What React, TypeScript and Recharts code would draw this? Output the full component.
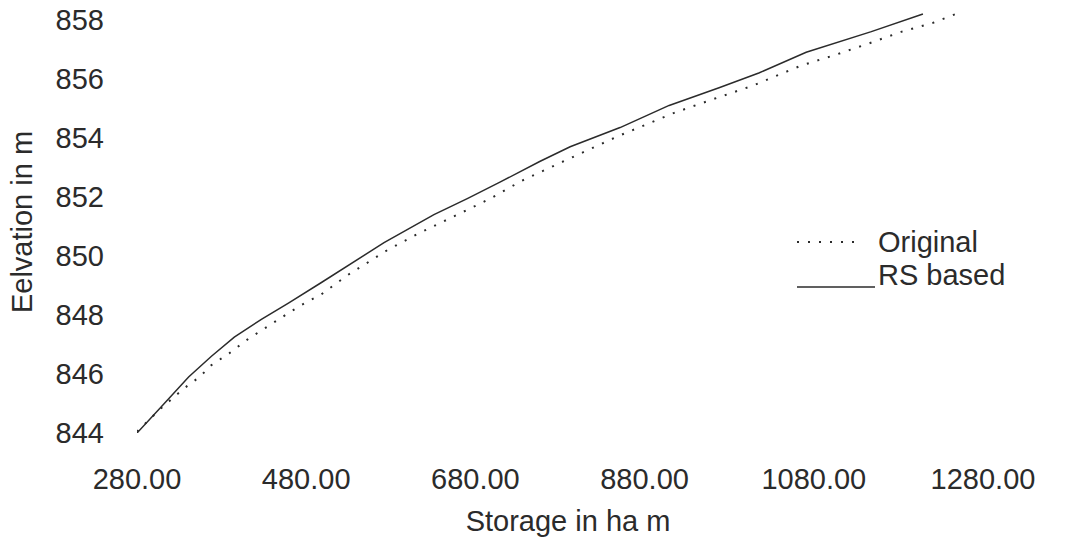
import React from 'react';
import { LineChart, Line, XAxis, YAxis, Legend, Label } from 'recharts';

// storage (ha m) vs elevation (m)
const originalStorage = [280, 307, 335, 354, 368, 389, 412, 442, 472, 498, 529, 576, 612, 666, 698, 735, 795, 848, 915, 965, 1006, 1065, 1104, 1145, 1184, 1221, 1248];
const originalElevation = [844.05, 844.8, 845.5, 845.9, 846.3, 846.7, 847.2, 847.75, 848.3, 848.7, 849.35, 850.2, 850.75, 851.5, 851.95, 852.55, 853.35, 854.05, 854.85, 855.35, 855.75, 856.45, 856.8, 857.2, 857.6, 857.9, 858.2];

const rsStorage = [280, 309, 341, 368, 395, 427, 459, 498, 572, 631, 671, 709, 756, 792, 851, 909, 968, 1015, 1071, 1148, 1209];
const rsElevation = [844.0, 844.9, 845.9, 846.6, 847.25, 847.85, 848.4, 849.1, 850.45, 851.4, 851.95, 852.5, 853.2, 853.7, 854.35, 855.1, 855.7, 856.2, 856.9, 857.6, 858.2];

const xTicks = [280, 480, 680, 880, 1080, 1280];
const yTicks = [844, 846, 848, 850, 852, 854, 856, 858];

const originalData = originalStorage.map((s, i) => ({ storage: s, elevation: originalElevation[i] }));
const rsData = rsStorage.map((s, i) => ({ storage: s, elevation: rsElevation[i] }));

const FONT = '"Liberation Sans", Arial, sans-serif';
const TEXT = '#2b2b2b';

const dashFor: Record<string, string | undefined> = {
    Original: '2 9',
    'RS based': undefined,
};

const LegendBox = (props: any) => {
    const items = props.payload || [];
    return (
        <svg width={230} height={80} style={{ fontFamily: FONT }}>
            {items.map((item: any, i: number) => {
                const y = i === 0 ? 22 : 67;
                return (
                    <g key={item.value}>
                        <line
                            x1={7}
                            x2={i === 0 ? 67 : 85}
                            y1={y}
                            y2={y}
                            stroke={TEXT}
                            strokeWidth={i === 0 ? 2 : 1.5}
                            strokeDasharray={dashFor[item.value]}
                        />
                        <text x={88} y={i === 0 ? y + 10 : y - 2} fontSize={29} fill={TEXT}>
                            {item.value}
                        </text>
                    </g>
                );
            })}
        </svg>
    );
};

export default function App() {
    return (
        <div style={{ margin: -8, width: 1065, height: 546, background: '#fff' }}>
            <LineChart width={1065} height={546} margin={{ top: 11, right: 82, bottom: 0, left: 0 }}>
                <XAxis
                    type="number"
                    dataKey="storage"
                    domain={[280, 1280]}
                    ticks={xTicks}
                    allowDataOverflow
                    axisLine={false}
                    tickLine={false}
                    tickSize={0}
                    tickMargin={35}
                    height={113}
                    tickFormatter={(v: number) => v.toFixed(2)}
                    tick={{ fontSize: 29, fill: TEXT, fontFamily: FONT }}
                >
                    <Label
                        value="Storage in ha m"
                        position="insideBottom"
                        offset={15}
                        dx={8}
                        style={{ fontSize: 29, fill: TEXT, fontFamily: FONT }}
                    />
                </XAxis>
                <YAxis
                    type="number"
                    domain={[844, 858.3]}
                    ticks={yTicks}
                    allowDataOverflow
                    axisLine={false}
                    tickLine={false}
                    tickSize={0}
                    tickMargin={33}
                    width={137}
                    tick={{ fontSize: 29, fill: TEXT, fontFamily: FONT }}
                >
                    <Label
                        value="Eelvation in m"
                        angle={-90}
                        position="insideLeft"
                        offset={22}
                        textAnchor="middle"
                        style={{ fontSize: 29, fill: TEXT, fontFamily: FONT }}
                    />
                </YAxis>
                <Legend
                    layout="vertical"
                    align="center"
                    verticalAlign="middle"
                    content={<LegendBox />}
                    wrapperStyle={{ left: 790, top: 220, width: 230, height: 80 }}
                />
                <Line
                    data={originalData}
                    type="linear"
                    dataKey="elevation"
                    name="Original"
                    stroke={TEXT}
                    strokeWidth={2}
                    strokeDasharray="2 9"
                    dot={false}
                    isAnimationActive={false}
                />
                <Line
                    data={rsData}
                    type="linear"
                    dataKey="elevation"
                    name="RS based"
                    stroke={TEXT}
                    strokeWidth={1.5}
                    dot={false}
                    isAnimationActive={false}
                />
            </LineChart>
        </div>
    );
}
